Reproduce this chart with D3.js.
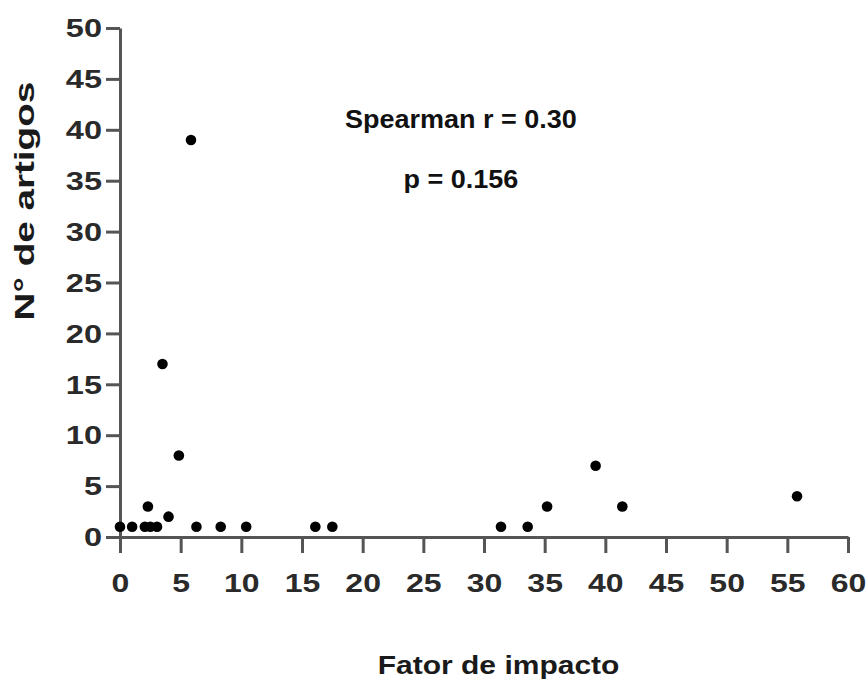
<!DOCTYPE html>
<html>
<head>
<meta charset="utf-8">
<script src="https://cdn.jsdelivr.net/npm/d3@7"></script>
<style>
  body { margin: 0; background: #fff; }
  text { font-family: "Liberation Sans", Arial, sans-serif; font-weight: bold; }
</style>
</head>
<body>
<div id="d3-container"></div>
<script>
/* DATA */
const impactFactor = [0, 1.0, 2.05, 2.5, 3.05, 2.3, 4.0, 3.5, 5.85, 4.85, 6.3, 8.3, 10.4, 16.1, 17.5, 31.4, 33.6, 35.2, 39.2, 41.4, 55.8];
const articleCount = [1, 1, 1, 1, 1, 3, 2, 17, 39, 8, 1, 1, 1, 1, 1, 1, 1, 3, 7, 3, 4];
const xTicks = [0, 5, 10, 15, 20, 25, 30, 35, 40, 45, 50, 55, 60];
const yTicks = [0, 5, 10, 15, 20, 25, 30, 35, 40, 45, 50];
const statLines = ["Spearman r = 0.30", "p = 0.156"];

/* CONSTANTS */
const width = 867,
  height = 684,
  margin = { top: 28, bottom: 147, left: 120, right: 19 },
  radius = 5.3,
  axisColor = "#555";

const points = impactFactor.map((d, i) => ({ x: d, y: articleCount[i] }));

const svg = d3.select("#d3-container")
  .append("svg")
  .attr("width", width)
  .attr("height", height);

// SCALES
const xScale = d3.scaleLinear()
  .domain([0, 60])
  .range([margin.left, width - margin.right]);

const yScale = d3.scaleLinear()
  .domain([0, 50])
  .range([height - margin.bottom, margin.top]);

// AXES
const xAxis = d3.axisBottom(xScale).tickValues(xTicks).tickSize(16).tickSizeOuter(0);
const yAxis = d3.axisLeft(yScale).tickValues(yTicks).tickSize(14).tickSizeOuter(0);

const gx = svg.append("g")
  .attr("transform", `translate(0, ${yScale(0)})`)
  .call(xAxis);

gx.selectAll("text")
  .attr("y", 0)
  .attr("dy", 0)
  .attr("transform", "translate(0, 55) scale(1.28, 1)")
  .attr("font-size", 25)
  .attr("fill", "#2a2a2a");

const gy = svg.append("g")
  .attr("transform", `translate(${xScale(0)}, 0)`)
  .call(yAxis);

gy.selectAll("text")
  .attr("x", 0)
  .attr("dy", "0.35em")
  .attr("transform", "translate(-18, 0) scale(1.3, 1)")
  .attr("font-size", 25)
  .attr("fill", "#2a2a2a");

svg.selectAll(".domain, .tick line")
  .attr("stroke", axisColor)
  .attr("stroke-width", 3);

// AXIS TITLES
svg.append("text")
  .attr("text-anchor", "middle")
  .attr("transform", `translate(34, ${yScale(33)}) rotate(-90) scale(1.38, 1)`)
  .attr("font-size", 28)
  .attr("fill", "#1a1a1a")
  .text("N° de artigos");

svg.append("text")
  .attr("text-anchor", "middle")
  .attr("transform", `translate(${xScale(31.2)}, 674) scale(1.2, 1)`)
  .attr("font-size", 25)
  .attr("fill", "#1a1a1a")
  .text("Fator de impacto");

// ANNOTATION
svg.selectAll(".stat")
  .data(statLines)
  .join("text")
  .attr("class", "stat")
  .attr("text-anchor", "middle")
  .attr("transform", (d, i) => `translate(${xScale(28.1)}, ${i === 0 ? 128 : 188}) scale(1.08, 1)`)
  .attr("font-size", 25)
  .attr("fill", "#111")
  .text(d => d);

// POINTS
svg.selectAll("circle")
  .data(points)
  .join("circle")
  .attr("cx", d => xScale(d.x))
  .attr("cy", d => yScale(d.y))
  .attr("r", radius)
  .attr("fill", "#000");
</script>
</body>
</html>
